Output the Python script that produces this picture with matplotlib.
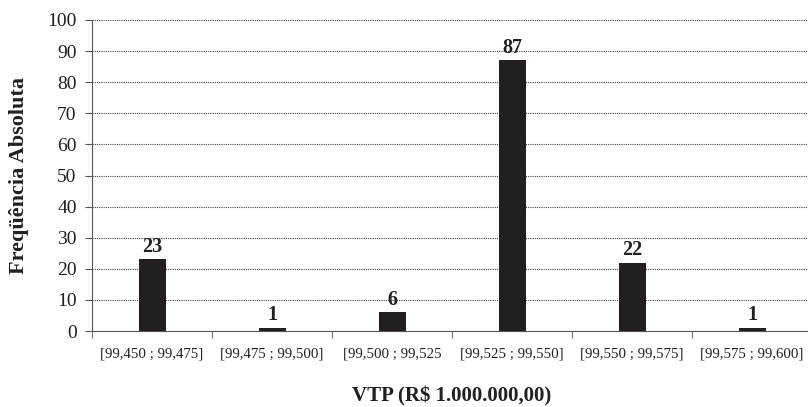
import matplotlib.pyplot as plt
import numpy as np

# class intervals and absolute frequencies
classes = ["[99,450 ; 99,475]", "[99,475 ; 99,500]", "[99,500 ; 99,525",
           "[99,525 ; 99,550]", "[99,550 ; 99,575]", "[99,575 ; 99,600]"]
freq = [23, 1, 6, 87, 22, 1]

plt.rcParams['font.family'] = ['Liberation Serif', 'DejaVu Serif']

fig = plt.figure(figsize=(8.08, 4.07), dpi=100)
ax = fig.add_axes([92/808, 1 - 331/407, 720/808, 311/407])

x = np.arange(len(classes))
ax.bar(x, freq, width=0.225, color='#231f20', zorder=3)
for xi, f in zip(x, freq):
    ax.annotate(str(f), (xi, f), xytext=(0, 2), textcoords='offset points',
                ha='center', va='bottom', fontsize=14.5, fontweight='bold',
                color='#231f20')

ax.set_xlim(-0.5, 5.5)
ax.set_ylim(0, 100)
ax.set_yticks(np.arange(0, 101, 10))
ax.yaxis.grid(True, linestyle=(0, (1, 1)), color='#444444', linewidth=0.8)
ax.set_axisbelow(True)

# labels in the middle of each class, ticks on the class boundaries
ax.set_xticks(x)
ax.set_xticklabels(classes, fontsize=10.7)
ax.set_xticks(np.arange(-0.5, 6, 1), minor=True)
ax.tick_params(axis='x', which='major', length=0, pad=12, colors='#231f20')
ax.tick_params(axis='x', which='minor', length=5, color='#555555')
ax.tick_params(axis='y', labelsize=14, length=5, pad=6, color='#555555', colors='#231f20')

ax.spines['top'].set_visible(False)
ax.spines['right'].set_visible(False)
ax.spines['bottom'].set_color('#555555')
ax.spines['left'].set_color('#555555')

fig.text(19/808, 1 - 175/407, "Freqüência Absoluta", rotation=90, ha='center', va='center',
         fontsize=16, fontweight='bold', color='#231f20')
fig.text(452/808, 1 - 396/407, "VTP (R$ 1.000.000,00)", ha='center', va='center',
         fontsize=15, fontweight='bold', color='#231f20')

fig.savefig("out.png", dpi=100)
